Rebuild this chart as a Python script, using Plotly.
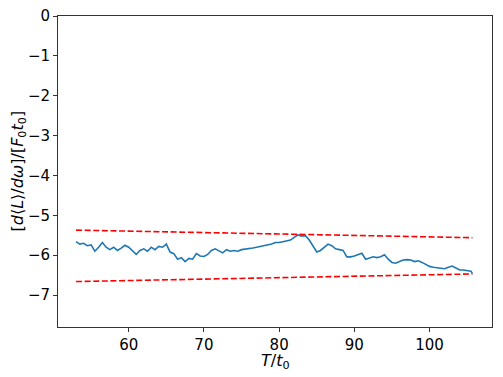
import plotly.graph_objects as go

# time axis (T/t0) and measured derivative
t_vals = [
    53.0, 53.5, 54.0, 54.5, 55.0, 55.5, 56.0, 56.5, 57.0, 57.5,
    58.0, 58.5, 59.0, 59.5, 60.0, 60.5, 61.0, 61.5, 62.0, 62.5,
    63.0, 63.5, 64.0, 64.5, 65.0, 65.5, 66.0, 66.5, 67.0, 67.5,
    68.0, 68.5, 69.0, 69.5, 70.0, 70.5, 71.0, 71.5, 72.0, 72.5,
    73.0, 73.5, 74.0, 74.5, 75.0, 75.5, 76.0, 76.5, 77.0, 77.5,
    78.0, 78.5, 79.0, 79.5, 80.0, 80.5, 81.0, 81.5, 82.0, 82.5,
    83.0, 83.5, 84.0, 84.5, 85.0, 85.5, 86.0, 86.5, 87.0, 87.5,
    88.0, 88.5, 89.0, 89.5, 90.0, 90.5, 91.0, 91.5, 92.0, 92.5,
    93.0, 93.5, 94.0, 94.5, 95.0, 95.5, 96.0, 96.5, 97.0, 97.5,
    98.0, 98.5, 99.0, 99.5, 100.0, 100.5, 101.0, 101.5, 102.0, 102.5,
    103.0, 103.5, 104.0, 104.5, 105.0, 105.5, 105.7,
]
dl_dw = [
    -5.66, -5.72, -5.70, -5.76, -5.74, -5.90, -5.80, -5.68, -5.80, -5.86,
    -5.80, -5.88, -5.82, -5.75, -5.80, -5.88, -5.98, -5.88, -5.84, -5.90,
    -5.80, -5.86, -5.78, -5.80, -5.72, -5.92, -5.96, -6.10, -6.06, -6.16,
    -6.08, -6.10, -5.96, -6.02, -6.03, -5.98, -5.88, -5.84, -5.90, -5.94,
    -5.86, -5.90, -5.88, -5.90, -5.86, -5.85, -5.84, -5.82, -5.80, -5.78,
    -5.76, -5.74, -5.72, -5.68, -5.68, -5.66, -5.64, -5.62, -5.55, -5.49,
    -5.52, -5.51, -5.62, -5.78, -5.92, -5.88, -5.80, -5.72, -5.76, -5.84,
    -5.86, -5.88, -6.04, -6.04, -6.02, -5.98, -5.95, -6.10, -6.06, -6.04,
    -6.06, -6.04, -5.99, -6.10, -6.18, -6.20, -6.16, -6.12, -6.11, -6.12,
    -6.16, -6.14, -6.18, -6.24, -6.28, -6.30, -6.31, -6.33, -6.34, -6.30,
    -6.27, -6.32, -6.37, -6.37, -6.38, -6.40, -6.46,
]

# bounding lines
bound_t = [53.0, 105.7]
upper_bound = [-5.37, -5.56]
lower_bound = [-6.66, -6.47]

font = dict(family="DejaVu Sans", size=15, color="black")

fig = go.Figure()
fig.add_trace(go.Scatter(x=t_vals, y=dl_dw, mode="lines",
                         line=dict(color="#1f77b4", width=1.6)))
for yb in (upper_bound, lower_bound):
    fig.add_trace(go.Scatter(x=bound_t, y=yb, mode="lines",
                             line=dict(color="#ff0000", width=1.6, dash="6px,2.6px")))

axis_common = dict(
    showgrid=False, zeroline=False, showline=True, linecolor="#333333",
    linewidth=1, mirror=True, ticks="outside", ticklen=4, tickcolor="#333333",
    tickfont=font, automargin=False, ticklabeloverflow="allow",
)
fig.update_xaxes(range=[50.6, 108.3], tickvals=[60, 70, 80, 90, 100], **axis_common)
fig.update_yaxes(range=[-7.8, 0], tickvals=[0, -1, -2, -3, -4, -5, -6, -7], **axis_common)

# page body adds an 8px offset, so the figure is sized to fit inside the window
fig.update_layout(
    width=495, height=369,
    margin=dict(l=50, r=11, t=8, b=50),
    showlegend=False,
    plot_bgcolor="white", paper_bgcolor="white",
    font=font,
    annotations=[
        dict(text="[<i>d</i>⟨<i>L</i>⟩/<i>dω</i>]/[<i>F</i><sub>0</sub><i>t</i><sub>0</sub>]",
             xref="paper", yref="paper", x=0, y=0.5, xshift=-40,
             textangle=-90, showarrow=False, xanchor="center", yanchor="middle",
             font=dict(family="DejaVu Sans", size=16, color="black")),
        dict(text="<i>T</i>/<i>t</i><sub>0</sub>",
             xref="paper", yref="paper", x=0.5, y=0, yshift=-34,
             showarrow=False, xanchor="center", yanchor="middle",
             font=dict(family="DejaVu Sans", size=16, color="black")),
    ],
)

fig.write_html("out.html")
